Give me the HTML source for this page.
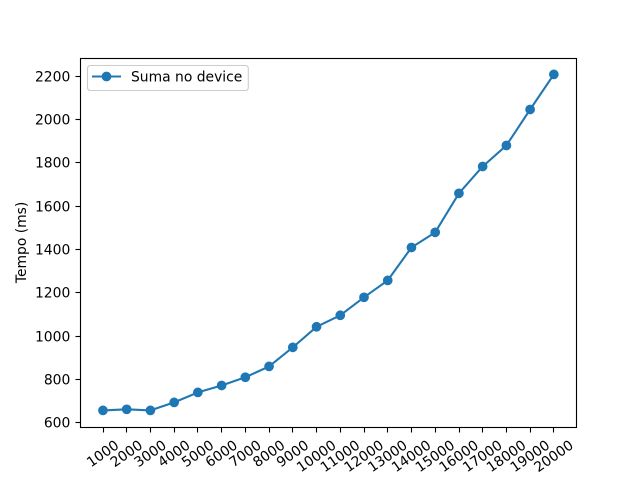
<!DOCTYPE html>
<html lang="pt">
<head>
<meta charset="utf-8">
<title>Suma no device</title>
<style>
html,body{margin:0;padding:0;background:#fff;}
svg{display:block;}
text{font-family:"DejaVu Sans","Liberation Sans",sans-serif;font-size:13.89px;fill:#000;}
</style>
</head>
<body>
<svg id="chart" xmlns="http://www.w3.org/2000/svg" width="640" height="480" viewBox="0 0 640 480">
  <rect x="0" y="0" width="640" height="480" fill="#ffffff"/>
  <rect x="80" y="58" width="496" height="369" fill="#ffffff"/>
  <g id="series"></g>
  <g id="x-axis"></g>
  <g id="y-axis"></g>
  <rect x="80.5" y="58.5" width="496" height="369" fill="none" stroke="#000" stroke-width="1.11"/>
  <text x="0" y="0" text-anchor="middle" transform="translate(26,242.4) rotate(-90)">Tempo (ms)</text>
  <g>
    <rect x="87.5" y="65.5" width="160.8" height="25" rx="2.8" ry="2.8" fill="#ffffff" fill-opacity="0.8" stroke="#cccccc" stroke-width="1.11"/>
    <line x1="92" y1="76.5" x2="121" y2="76.5" stroke="#1f77b4" stroke-width="2.08"/>
    <circle cx="106.5" cy="76.5" r="4.17" fill="#1f77b4" stroke="#1f77b4" stroke-width="1.39"/>
    <text x="131" y="81.5">Suma no device</text>
  </g>
</svg>
<script>
const categories = ["1000","2000","3000","4000","5000","6000","7000","8000","9000","10000","11000","12000","13000","14000","15000","16000","17000","18000","19000","20000"];
const seriesValues = [657,662,657,694,740,772,810,860,948,1043,1096,1179,1257,1409,1479,1659,1783,1880,2046,2208];
const yTickLabels = ["600","800","1000","1200","1400","1600","1800","2000","2200"];

const NS = "http://www.w3.org/2000/svg";
const plot = {left: 80, right: 576, top: 57.6, bottom: 427.2};
const BLUE = "#1f77b4";

function xScale(index) {
  const last = categories.length - 1;
  const span = last * 1.1;
  const domainMin = -last * 0.05;
  return plot.left + (index - domainMin) / span * (plot.right - plot.left);
}
function yDomain() {
  const lo = Math.min.apply(null, seriesValues);
  const hi = Math.max.apply(null, seriesValues);
  const pad = (hi - lo) * 0.05;
  return [lo - pad, hi + pad];
}
function yScale(value) {
  const d = yDomain();
  return plot.bottom - (value - d[0]) / (d[1] - d[0]) * (plot.bottom - plot.top);
}
function make(tag, attrs) {
  const el = document.createElementNS(NS, tag);
  Object.keys(attrs).forEach(function (k) { el.setAttribute(k, attrs[k]); });
  return el;
}

const seriesGroup = document.getElementById("series");
const xAxisGroup = document.getElementById("x-axis");
const yAxisGroup = document.getElementById("y-axis");

const linePoints = seriesValues.map(function (v, i) {
  return (xScale(i) + 0.4).toFixed(2) + "," + yScale(v).toFixed(2);
}).join(" ");
const seriesLine = make("polyline", {points: linePoints, fill: "none", stroke: BLUE, "stroke-width": 2.08, "stroke-linejoin": "round"});


seriesGroup.appendChild(seriesLine);

seriesValues.forEach(function (v, i) {
  const point = make("circle", {cx: (xScale(i) + 0.4).toFixed(2), cy: yScale(v).toFixed(2), r: 4.17, fill: BLUE, stroke: BLUE, "stroke-width": 1.39});
  
  
  seriesGroup.appendChild(point);
});

const ANGLE = 35;
const rad = ANGLE * Math.PI / 180;
categories.forEach(function (label, i) {
  const x = xScale(i);
  const tickX = Math.floor(x + 0.5) + 0.5;
  const tick = make("line", {x1: tickX, y1: 427.5, x2: tickX, y2: 432.5, stroke: "#000", "stroke-width": 1.11});
  
  
  xAxisGroup.appendChild(tick);

  const text = make("text", {x: 0, y: 0, "text-anchor": "middle"});
  
  
  text.textContent = label;
  xAxisGroup.appendChild(text);
  const w = text.getComputedTextLength();
  const h = 14;
  const cy = 437.5 + (w * Math.sin(rad) + h * Math.cos(rad)) / 2;
  text.setAttribute("transform", "translate(" + x.toFixed(2) + "," + cy.toFixed(2) + ") rotate(" + (-ANGLE) + ") translate(0,5)");
});

yTickLabels.forEach(function (label) {
  const y = yScale(Number(label));
  const tickY = Math.floor(y) + 0.5;
  const tick = make("line", {x1: 75.5, y1: tickY, x2: 80.5, y2: tickY, stroke: "#000", "stroke-width": 1.11});
  
  
  yAxisGroup.appendChild(tick);

  const text = make("text", {x: 70.3, y: (tickY + 5).toFixed(2), "text-anchor": "end"});
  
  
  text.textContent = label;
  yAxisGroup.appendChild(text);
});
</script>
</body>
</html>
